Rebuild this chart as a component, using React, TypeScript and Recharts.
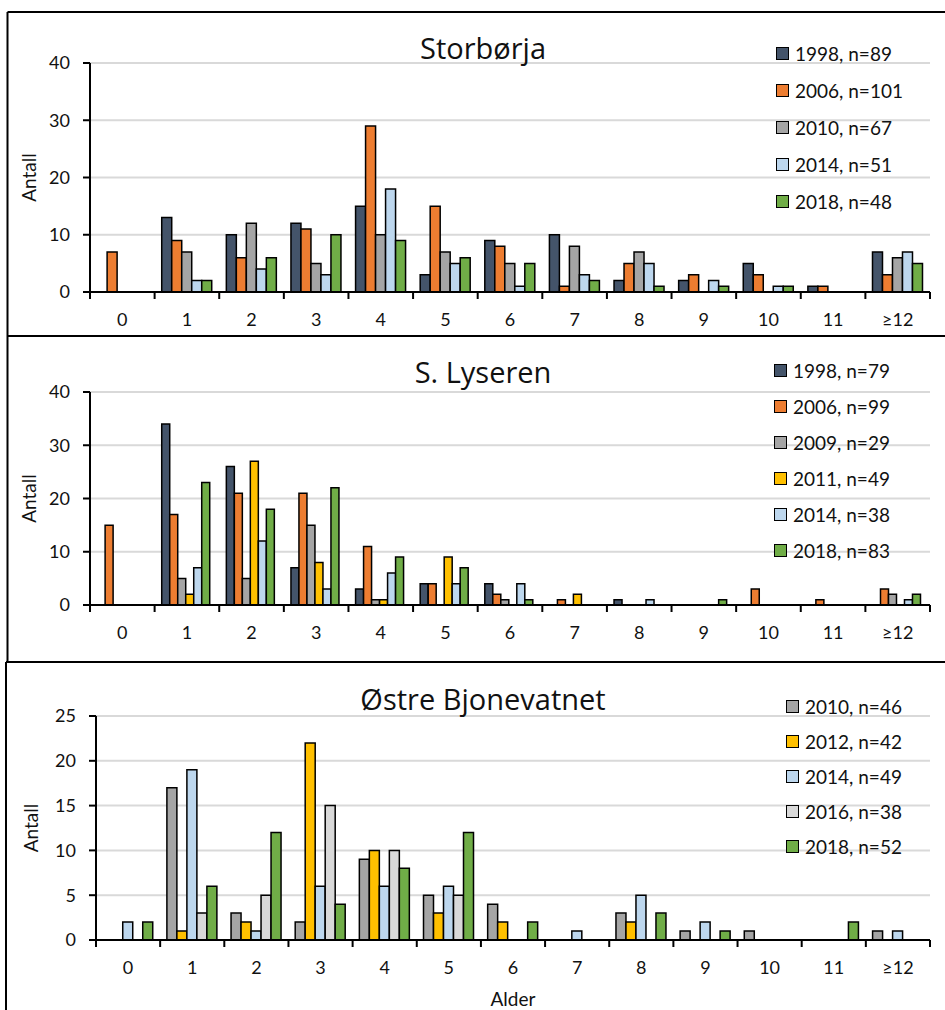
import React from 'react';
import { BarChart, Bar, XAxis, YAxis, CartesianGrid, Legend } from 'recharts';

// Aldersklasser (x-akse)
const ages = ['0', '1', '2', '3', '4', '5', '6', '7', '8', '9', '10', '11', '≥12'];

// Storbørja
const storborja1998 = [0, 13, 10, 12, 15, 3, 9, 10, 2, 2, 5, 1, 7];
const storborja2006 = [7, 9, 6, 11, 29, 15, 8, 1, 5, 3, 3, 1, 3];
const storborja2010 = [0, 7, 12, 5, 10, 7, 5, 8, 7, 0, 0, 0, 6];
const storborja2014 = [0, 2, 4, 3, 18, 5, 1, 3, 5, 2, 1, 0, 7];
const storborja2018 = [0, 2, 6, 10, 9, 6, 5, 2, 1, 1, 1, 0, 5];

// S. Lyseren
const lyseren1998 = [0, 34, 26, 7, 3, 4, 4, 0, 1, 0, 0, 0, 0];
const lyseren2006 = [15, 17, 21, 21, 11, 4, 2, 1, 0, 0, 3, 1, 3];
const lyseren2009 = [0, 5, 5, 15, 1, 0, 1, 0, 0, 0, 0, 0, 2];
const lyseren2011 = [0, 2, 27, 8, 1, 9, 0, 2, 0, 0, 0, 0, 0];
const lyseren2014 = [0, 7, 12, 3, 6, 4, 4, 0, 1, 0, 0, 0, 1];
const lyseren2018 = [0, 23, 18, 22, 9, 7, 1, 0, 0, 1, 0, 0, 2];

// Østre Bjonevatnet
const bjone2010 = [0, 17, 3, 2, 9, 5, 4, 0, 3, 1, 1, 0, 1];
const bjone2012 = [0, 1, 2, 22, 10, 3, 2, 0, 2, 0, 0, 0, 0];
const bjone2014 = [2, 19, 1, 6, 6, 6, 0, 1, 5, 2, 0, 0, 1];
const bjone2016 = [0, 3, 5, 15, 10, 5, 0, 0, 0, 0, 0, 0, 0];
const bjone2018 = [2, 6, 12, 4, 8, 12, 2, 0, 3, 1, 0, 2, 0];

const NAVY = '#44546a';
const ORANGE = '#ed7d31';
const GRAY = '#a5a5a5';
const LIGHTBLUE = '#bdd7ee';
const GREEN = '#70ad47';
const YELLOW = '#ffc000';
const LIGHTGRAY = '#d9d9d9';

const WIDTH = 945;
const PLOT_RIGHT = 930;
const TEXT = '#111';

interface SeriesDef {
  name: string;
  color: string;
  values: number[];
}

const AgeTick = (props: any) => {
  const { x, y, payload, index, band, count } = props;
  const half = band / 2;
  return (
    <g>
      <line x1={x - half} x2={x - half} y1={y} y2={y + 7} stroke="#000" strokeWidth={2} />
      {index === count - 1 && (
        <line x1={x + half} x2={x + half} y1={y} y2={y + 7} stroke="#000" strokeWidth={2} />
      )}
      <text x={x} y={y + 27} textAnchor="middle" dominantBaseline="central" fontSize={18} fill={TEXT}>
        {payload.value}
      </text>
    </g>
  );
};

const SwatchLegend = ({ payload, rowHeight }: any) => (
  <div style={{ fontSize: 19, color: TEXT }}>
    {(payload || []).map((entry: any) => (
      <div key={entry.value} style={{ display: 'flex', alignItems: 'center', height: rowHeight, lineHeight: 1 }}>
        <span
          style={{
            display: 'inline-block',
            width: 11,
            height: 11,
            border: '1.5px solid #000',
            background: entry.color,
            marginRight: 6,
          }}
        />
        <span style={{ whiteSpace: 'nowrap' }}>{entry.value}</span>
      </div>
    ))}
  </div>
);

interface PanelProps {
  top: number;
  height: number;
  plotTop: number;
  plotBottom: number;
  plotLeft: number;
  yMax: number;
  yTicks: number[];
  series: SeriesDef[];
  categoryGap: string;
  legendTop: number;
  legendLeft: number;
  legendRow: number;
  antallX: number;
  showAlder?: boolean;
}

const Panel: React.FC<PanelProps> = ({
  top,
  height,
  plotTop,
  plotBottom,
  plotLeft,
  yMax,
  yTicks,
  series,
  categoryGap,
  legendTop,
  legendLeft,
  legendRow,
  antallX,
  showAlder = false,
}) => {
  const rows = ages.map((age, i) => {
    const row: Record<string, string | number> = { age };
    series.forEach((s, k) => {
      row['s' + k] = s.values[i];
    });
    return row;
  });

  const band = (PLOT_RIGHT - plotLeft) / ages.length;
  const xAxisHeight = showAlder ? 66 : 34;
  const margin = {
    top: plotTop - top,
    right: WIDTH - PLOT_RIGHT,
    left: 10,
    bottom: top + height - plotBottom - xAxisHeight,
  };

  const antallLabel = (p: any) => {
    const vb = p && p.viewBox ? p.viewBox : { y: plotTop - top, height: plotBottom - plotTop };
    const cy = vb.y + vb.height / 2;
    return (
      <text
        x={antallX}
        y={cy}
        transform={`rotate(-90 ${antallX} ${cy})`}
        textAnchor="middle"
        dominantBaseline="central"
        fontSize={19}
        fill={TEXT}
      >
        Antall
      </text>
    );
  };

  return (
    <div style={{ position: 'absolute', left: 0, top }}>
      <BarChart
        width={WIDTH}
        height={height}
        data={rows}
        margin={margin}
        barGap={0}
        barCategoryGap={categoryGap}
      >
        <CartesianGrid vertical={false} stroke="#d9d9d9" strokeWidth={2} />
        <XAxis
          dataKey="age"
          interval={0}
          height={xAxisHeight}
          tickLine={false}
          tickSize={0}
          tickMargin={0}
          axisLine={{ stroke: '#000', strokeWidth: 2 }}
          tick={<AgeTick band={band} count={ages.length} />}
          label={
            showAlder
              ? { value: 'Alder', position: 'insideBottom', offset: 0, fontSize: 19, fill: TEXT }
              : undefined
          }
        />
        <YAxis
          width={plotLeft - 10}
          domain={[0, yMax]}
          ticks={yTicks}
          interval={0}
          allowDataOverflow
          tickSize={7}
          tickMargin={13}
          axisLine={{ stroke: '#000', strokeWidth: 2 }}
          tickLine={{ stroke: '#000', strokeWidth: 2 }}
          tick={{ fill: TEXT, fontSize: 18 }}
          label={{ content: antallLabel }}
        />
        <Legend
          layout="horizontal"
          verticalAlign="middle"
          align="center"
          wrapperStyle={{ top: legendTop - top, left: legendLeft, width: 'auto' }}
          content={(p: any) => <SwatchLegend payload={p.payload} rowHeight={legendRow} />}
        />
        {series.map((s, k) => (
          <Bar
            key={s.name}
            dataKey={'s' + k}
            name={s.name}
            fill={s.color}
            stroke="#000"
            strokeWidth={1.5}
            isAnimationActive={false}
          />
        ))}
      </BarChart>
    </div>
  );
};

const storborjaSeries: SeriesDef[] = [
  { name: '1998, n=89', color: NAVY, values: storborja1998 },
  { name: '2006, n=101', color: ORANGE, values: storborja2006 },
  { name: '2010, n=67', color: GRAY, values: storborja2010 },
  { name: '2014, n=51', color: LIGHTBLUE, values: storborja2014 },
  { name: '2018, n=48', color: GREEN, values: storborja2018 },
];

const lyserenSeries: SeriesDef[] = [
  { name: '1998, n=79', color: NAVY, values: lyseren1998 },
  { name: '2006, n=99', color: ORANGE, values: lyseren2006 },
  { name: '2009, n=29', color: GRAY, values: lyseren2009 },
  { name: '2011, n=49', color: YELLOW, values: lyseren2011 },
  { name: '2014, n=38', color: LIGHTBLUE, values: lyseren2014 },
  { name: '2018, n=83', color: GREEN, values: lyseren2018 },
];

const bjoneSeries: SeriesDef[] = [
  { name: '2010, n=46', color: GRAY, values: bjone2010 },
  { name: '2012, n=42', color: YELLOW, values: bjone2012 },
  { name: '2014, n=49', color: LIGHTBLUE, values: bjone2014 },
  { name: '2016, n=38', color: LIGHTGRAY, values: bjone2016 },
  { name: '2018, n=52', color: GREEN, values: bjone2018 },
];

export default function App() {
  return (
    <div
      style={{
        position: 'absolute',
        left: 0,
        top: 0,
        width: WIDTH,
        height: 1010,
        overflow: 'hidden',
        background: '#fff',
        fontFamily: 'Lato, "Open Sans", sans-serif',
      }}
    >
      <Panel
        top={12}
        height={324}
        plotTop={63}
        plotBottom={292}
        plotLeft={90}
        yMax={40}
        yTicks={[0, 10, 20, 30, 40]}
        series={storborjaSeries}
        categoryGap="11%"
        legendTop={34.5}
        legendLeft={776}
        legendRow={37}
        antallX={28}
      />
      <Panel
        top={336}
        height={326}
        plotTop={392}
        plotBottom={605}
        plotLeft={90}
        yMax={40}
        yTicks={[0, 10, 20, 30, 40]}
        series={lyserenSeries}
        categoryGap="11%"
        legendTop={352}
        legendLeft={774}
        legendRow={36}
        antallX={28}
      />
      <Panel
        top={662}
        height={348}
        plotTop={716}
        plotBottom={940}
        plotLeft={96}
        yMax={25}
        yTicks={[0, 5, 10, 15, 20, 25]}
        series={bjoneSeries}
        categoryGap="10.5%"
        legendTop={688.5}
        legendLeft={786}
        legendRow={35}
        antallX={30}
        showAlder
      />
      <svg
        width={WIDTH}
        height={1010}
        style={{ position: 'absolute', left: 0, top: 0, pointerEvents: 'none' }}
      >
        <g stroke="#000" strokeWidth={2}>
          <line x1={7.5} x2={WIDTH} y1={12} y2={12} />
          <line x1={7.5} x2={7.5} y1={12} y2={336} />
          <line x1={7.5} x2={WIDTH} y1={336} y2={336} />
          <line x1={7.5} x2={7.5} y1={336} y2={662} />
          <line x1={6} x2={WIDTH} y1={662} y2={662} />
          <line x1={6} x2={6} y1={662} y2={1010} />
        </g>
        <g fontSize={29} fill={TEXT} textAnchor="middle" fontFamily='"Open Sans", sans-serif'>
          <text x={483} y={59}>Storbørja</text>
          <text x={483} y={383}>S. Lyseren</text>
          <text x={483} y={710}>Østre Bjonevatnet</text>
        </g>
      </svg>
    </div>
  );
}
